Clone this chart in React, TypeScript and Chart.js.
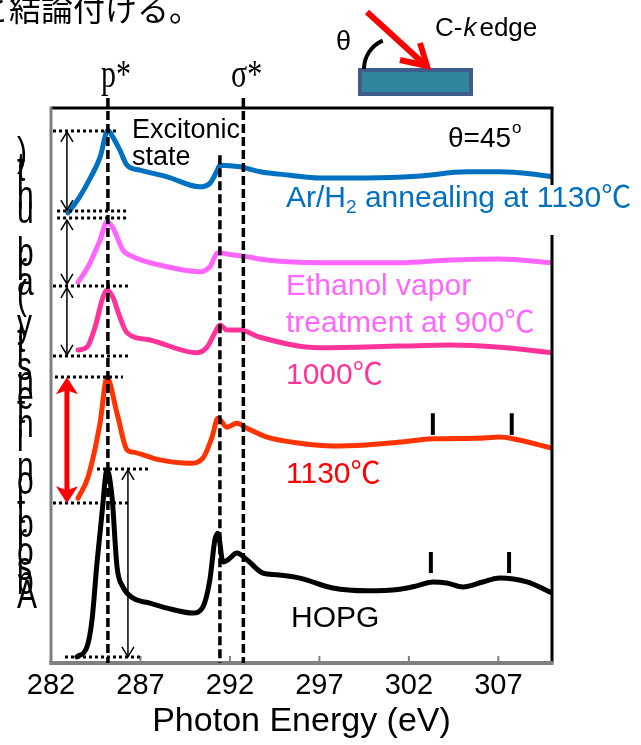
import React, { useEffect, useRef } from "react";
import { Chart, registerables } from "chart.js";

Chart.register(...registerables);

// ---- data ----
const xTicks = [282, 287, 292, 297, 302, 307];

const arH2Energy = [282.95, 283.6, 284.2, 284.75, 285.18, 285.45, 285.85, 286.25, 286.97, 288.5, 290.3, 290.9, 291.25, 291.45, 292.55, 293.7, 295.35, 297.0, 299.65, 302.45, 305.25, 307.1, 308.9, 310];
const arH2Intensity = [81.1, 84.0, 87.4, 91.2, 96.0, 94.8, 92.4, 89.7, 88.8, 87.6, 85.8, 86.5, 88.5, 89.7, 89.4, 88.5, 87.9, 87.4, 87.4, 87.7, 88.5, 88.5, 88.1, 87.6];

const ethanolEnergy = [283.51, 284.07, 284.74, 285.13, 285.46, 286.02, 286.58, 288.48, 290.32, 290.88, 291.33, 292.17, 292.95, 294.07, 297.03, 301.5, 304.3, 307.08, 310];
const ethanolIntensity = [68.6, 71.4, 76.2, 79.5, 78.4, 74.4, 73.2, 71.4, 70.5, 71.4, 73.9, 73.5, 73.2, 72.6, 72.1, 72.1, 72.6, 72.8, 72.1];

const t1000Energy = [283.51, 284.01, 284.46, 284.9, 285.13, 285.46, 285.85, 286.25, 287.53, 290.16, 290.72, 291.16, 291.44, 291.83, 292.56, 293.68, 297.03, 301.5, 304.3, 307.08, 310];
const t1000Intensity = [56.4, 56.9, 60.5, 65.9, 67.2, 65.9, 62.3, 59.5, 58.2, 55.9, 56.9, 59.5, 60.9, 60.0, 60.0, 58.7, 56.8, 57.1, 57.3, 56.9, 55.9];

const t1130Energy = [283.51, 284.07, 284.74, 285.13, 285.69, 286.25, 286.58, 288.09, 289.77, 290.49, 291.0, 291.33, 291.83, 292.39, 292.95, 294.07, 295.91, 297.75, 299.6, 301.5, 303.34, 305.8, 307.08, 307.81, 310];
const t1130Intensity = [29.7, 33.5, 43.2, 51.4, 45.0, 38.4, 38.0, 36.6, 36.0, 36.9, 40.7, 44.1, 42.5, 43.2, 42.3, 40.7, 39.6, 39.1, 39.3, 39.8, 40.4, 40.5, 40.7, 40.4, 38.7];

const hopgEnergy = [283.45, 284.01, 284.29, 284.57, 284.85, 285.13, 285.41, 285.69, 286.02, 286.58, 287.53, 288.48, 289.93, 290.49, 290.88, 291.16, 291.33, 291.61, 291.89, 292.39, 292.95, 293.84, 294.63, 295.91, 297.75, 299.65, 301.5, 302.45, 303.34, 304.12, 305.02, 306.13, 307.08, 308.6, 310];
const hopgIntensity = [1.1, 2.9, 7.7, 18.0, 27.0, 34.8, 29.9, 17.3, 13.7, 11.7, 10.8, 9.9, 9.0, 10.1, 15.0, 22.2, 23.4, 18.2, 18.6, 19.8, 18.6, 16.2, 15.9, 15.3, 13.5, 13.0, 13.3, 13.9, 14.6, 14.4, 13.7, 14.6, 15.3, 14.6, 12.6];

// annotation guides (data units)
const piStarEnergy = 285.18;
const sigmaStarEnergies = [291.44, 292.75];
const dottedLevels = [
  { y: 95.86, x0: 282.11, x1: 285.69 },
  { y: 81.44, x0: 282.34, x1: 286.3 },
  { y: 80.18, x0: 282.34, x1: 286.3 },
  { y: 67.93, x0: 282.11, x1: 286.3 },
  { y: 55.32, x0: 282.11, x1: 286.3 },
  { y: 51.53, x0: 282.22, x1: 286.02 },
  { y: 34.95, x0: 284.57, x1: 287.53 },
  { y: 28.83, x0: 282.11, x1: 286.3 },
  { y: 1.08, x0: 282.78, x1: 286.97 },
];
const thinArrows = [
  { x: 282.89, y0: 95.7, y1: 81.6 },
  { x: 282.89, y0: 79.8, y1: 68.3 },
  { x: 282.89, y0: 67.6, y1: 55.5 },
  { x: 286.3, y0: 34.8, y1: 1.1 },
];
const redArrow = { x: 282.89, y0: 51.5, y1: 28.8 };
const markerBars = [
  { x: 303.34, y0: 45.0, y1: 41.1 },
  { x: 307.75, y0: 45.0, y1: 41.1 },
  { x: 303.23, y0: 20.0, y1: 16.2 },
  { x: 307.6, y0: 20.0, y1: 16.2 },
];

const SANS = "'Liberation Sans', Arial, 'Noto Sans CJK JP', sans-serif";
const SERIF = "'Liberation Serif', 'Times New Roman', 'DejaVu Serif', serif";

function pts(xs: number[], ys: number[]) {
  return xs.map((x, i) => ({ x, y: ys[i] }));
}

function text(ctx: CanvasRenderingContext2D, s: string, x: number, y: number, font: string, color: string, sx = 1, sy = 1, align: CanvasTextAlign = "left") {
  ctx.save();
  ctx.font = font;
  ctx.fillStyle = color;
  ctx.textAlign = align;
  ctx.textBaseline = "alphabetic";
  ctx.translate(x, y);
  ctx.scale(sx, sy);
  ctx.fillText(s, 0, 0);
  ctx.restore();
}

function seg(ctx: CanvasRenderingContext2D, x0: number, y0: number, x1: number, y1: number) {
  ctx.beginPath();
  ctx.moveTo(x0, y0);
  ctx.lineTo(x1, y1);
  ctx.stroke();
}

const decorPlugin = {
  id: "decor",
  beforeDraw(chart: any) {
    const ctx = chart.ctx;
    ctx.save();
    ctx.fillStyle = "#ffffff";
    ctx.fillRect(0, 0, chart.width, chart.height);
    ctx.restore();
  },
  afterDatasetsDraw(chart: any) {
    const ctx: CanvasRenderingContext2D = chart.ctx;
    const a = chart.chartArea;
    const xs = chart.scales.x;
    const ys = chart.scales.y;
    const X = (v: number) => xs.getPixelForValue(v);
    const Y = (v: number) => ys.getPixelForValue(v);
    ctx.save();

    // frame
    ctx.lineCap = "butt";
    ctx.strokeStyle = "#000";
    ctx.lineWidth = 3;
    seg(ctx, a.left, a.top, a.right + 1.5, a.top);
    seg(ctx, a.right, a.top, a.right, a.bottom);
    ctx.strokeStyle = "#808080";
    ctx.lineWidth = 3;
    seg(ctx, a.left, a.top - 1.5, a.left, a.bottom + 2);
    ctx.lineWidth = 4;
    seg(ctx, a.left - 1.5, a.bottom, a.right + 1.5, a.bottom);
    ctx.lineWidth = 2;
    xTicks.slice(1).forEach((t) => seg(ctx, X(t), a.bottom, X(t), a.bottom - 7));

    // dashed vertical lines
    ctx.strokeStyle = "#000";
    ctx.lineWidth = 3.5;
    ctx.setLineDash([9, 4]);
    seg(ctx, X(piStarEnergy), Y(101.8), X(piStarEnergy), a.bottom);
    seg(ctx, X(sigmaStarEnergies[0]), Y(91.5), X(sigmaStarEnergies[0]), a.bottom);
    seg(ctx, X(sigmaStarEnergies[1]), Y(101.8), X(sigmaStarEnergies[1]), a.bottom);

    // dotted horizontals
    ctx.lineWidth = 3;
    ctx.setLineDash([3, 3]);
    dottedLevels.forEach((d) => seg(ctx, X(d.x0), Y(d.y), X(d.x1), Y(d.y)));
    ctx.setLineDash([]);

    // thin double arrows
    ctx.lineWidth = 1.5;
    thinArrows.forEach((ar) => {
      const x = X(ar.x);
      const t = Y(ar.y0);
      const b = Y(ar.y1);
      seg(ctx, x, t, x, b);
      ctx.beginPath();
      ctx.moveTo(x - 6, t + 10);
      ctx.lineTo(x, t);
      ctx.lineTo(x + 6, t + 10);
      ctx.moveTo(x - 6, b - 10);
      ctx.lineTo(x, b);
      ctx.lineTo(x + 6, b - 10);
      ctx.stroke();
    });

    // red double arrow
    {
      const x = X(redArrow.x);
      const t = Y(redArrow.y0);
      const b = Y(redArrow.y1);
      ctx.strokeStyle = "#ff0000";
      ctx.fillStyle = "#ff0000";
      ctx.lineWidth = 5;
      seg(ctx, x, t + 12, x, b - 12);
      ctx.beginPath();
      ctx.moveTo(x, t);
      ctx.lineTo(x + 11, t + 17);
      ctx.lineTo(x, t + 13);
      ctx.lineTo(x - 11, t + 17);
      ctx.closePath();
      ctx.fill();
      ctx.beginPath();
      ctx.moveTo(x, b);
      ctx.lineTo(x + 11, b - 17);
      ctx.lineTo(x, b - 13);
      ctx.lineTo(x - 11, b - 17);
      ctx.closePath();
      ctx.fill();
    }

    // marker bars
    ctx.strokeStyle = "#000";
    ctx.lineWidth = 4;
    markerBars.forEach((m) => seg(ctx, X(m.x), Y(m.y0), X(m.x), Y(m.y1)));

    // in-plot labels
    text(ctx, "Excitonic", 132, 138, `27px ${SANS}`, "#000");
    text(ctx, "state", 132, 165, `27px ${SANS}`, "#000");
    text(ctx, "θ=45", 448, 147, `28px ${SANS}`, "#000");
    ctx.font = `28px ${SANS}`;
    const thW = ctx.measureText("θ=45").width;
    text(ctx, "o", 448 + thW + 1, 133, `17px ${SANS}`, "#000");

    // blue label with white box
    ctx.fillStyle = "#fff";
    ctx.fillRect(282, 185, 641 - 282, 50);
    {
      const f = `30px ${SANS}`;
      const col = "#0070c0";
      let x = 286;
      const y = 207;
      ctx.font = f;
      text(ctx, "Ar/H", x, y, f, col);
      x += ctx.measureText("Ar/H").width;
      text(ctx, "2", x, y + 6, `19px ${SANS}`, col);
      ctx.font = `19px ${SANS}`;
      x += ctx.measureText("2").width;
      text(ctx, " annealing at 1130℃", x, y, f, col);
    }
    text(ctx, "Ethanol vapor", 286, 295, `30px ${SANS}`, "#ff66ff");
    text(ctx, "treatment at 900℃", 286, 332, `30px ${SANS}`, "#ff66ff");
    text(ctx, "1000℃", 286, 384, `30px ${SANS}`, "#ff3399");
    text(ctx, "1130℃", 286, 483, `30px ${SANS}`, "#ff0000");
    text(ctx, "HOPG", 291, 627, `30px ${SANS}`, "#000");

    // p*, sigma* labels
    text(ctx, "p*", 101, 87, `30px ${SERIF}`, "#000", 1, 1.3, "left");
    text(ctx, "σ*", 231, 87, `30px ${SERIF}`, "#000", 1, 1.3, "left");

    // stacked y-axis title
    const yTitle = "Absorption intensity (arb. unit)";
    for (let i = 0; i < yTitle.length; i++) {
      text(ctx, yTitle[i], 17, 608 - i * 14.25, `30px ${SANS}`, "#000", 1, 1.35);
    }

    // top sentence (cut off)
    text(ctx, "と結論付ける。", -23, 21, `32px 'Noto Sans CJK JP', sans-serif`, "#000");

    // diagram
    ctx.fillStyle = "#31859c";
    ctx.strokeStyle = "#3d5e8c";
    ctx.lineWidth = 4;
    ctx.beginPath();
    ctx.rect(360, 70, 111, 24);
    ctx.fill();
    ctx.stroke();
    ctx.strokeStyle = "#000";
    ctx.lineWidth = 4;
    ctx.beginPath();
    ctx.arc(395, 69, 31, Math.PI, Math.PI * 1.37);
    ctx.stroke();
    ctx.strokeStyle = "#ff0000";
    ctx.lineWidth = 6;
    ctx.lineCap = "butt";
    seg(ctx, 367, 12, 424, 64);
    ctx.beginPath();
    ctx.moveTo(400, 60);
    ctx.lineTo(427, 66);
    ctx.lineTo(420, 43);
    ctx.stroke();
    text(ctx, "θ", 336, 50, `27px ${SANS}`, "#000");
    {
      const f = `26px ${SANS}`;
      let x = 435;
      ctx.font = f;
      text(ctx, "C-", x, 36, f, "#000");
      x += ctx.measureText("C-").width + 1;
      text(ctx, "k", x, 36, `italic ${f}`, "#000");
      ctx.font = `italic ${f}`;
      x += ctx.measureText("k").width + 3;
      text(ctx, "edge", x, 36, f, "#000");
    }
    ctx.restore();
  },
};

export default function App() {
  const ref = useRef<HTMLCanvasElement | null>(null);
  useEffect(() => {
    document.body.style.margin = "0";
    const canvas = ref.current;
    if (!canvas) return;
    const line = (data: any, color: string, label: string) => ({
      label,
      data,
      borderColor: color,
      backgroundColor: color,
      borderWidth: 5,
      pointRadius: 0,
      fill: false,
      cubicInterpolationMode: "monotone" as const,
      borderCapStyle: "round" as const,
      borderJoinStyle: "round" as const,
    });
    const chart = new Chart(canvas, {
      type: "line",
      data: {
        datasets: [
          line(pts(arH2Energy, arH2Intensity), "#0070c0", "Ar/H2 annealing at 1130℃"),
          line(pts(ethanolEnergy, ethanolIntensity), "#ff66ff", "Ethanol vapor treatment at 900℃"),
          line(pts(t1000Energy, t1000Intensity), "#ff3399", "1000℃"),
          line(pts(t1130Energy, t1130Intensity), "#ff3300", "1130℃"),
          line(pts(hopgEnergy, hopgIntensity), "#000000", "HOPG"),
        ],
      },
      options: {
        animation: false,
        responsive: false,
        devicePixelRatio: 1,
        layout: { padding: { left: 51, right: 89, top: 108, bottom: 0 } },
        plugins: { legend: { display: false }, tooltip: { enabled: false } },
        scales: {
          x: {
            type: "linear",
            min: 282,
            max: 310,
            afterBuildTicks: (s: any) => {
              s.ticks = xTicks.map((v) => ({ value: v }));
            },
            afterFit: (s: any) => {
              s.height = 82;
            },
            grid: { display: false, drawTicks: false },
            border: { display: false },
            ticks: {
              autoSkip: false,
              maxRotation: 0,
              padding: 6,
              color: "#000",
              font: { family: SANS, size: 29 },
            },
            title: {
              display: true,
              text: "Photon Energy (eV)",
              color: "#000",
              font: { family: SANS, size: 34 },
              padding: { top: 0, bottom: 3 },
            },
          },
          y: { type: "linear", min: 0, max: 100, display: false },
        },
      },
      plugins: [decorPlugin],
    });
    return () => chart.destroy();
  }, []);
  return (
    <div style={{ position: "absolute", left: 0, top: 0, width: 641, height: 745 }}>
      <canvas ref={ref} width={641} height={745} style={{ display: "block" }} />
    </div>
  );
}
